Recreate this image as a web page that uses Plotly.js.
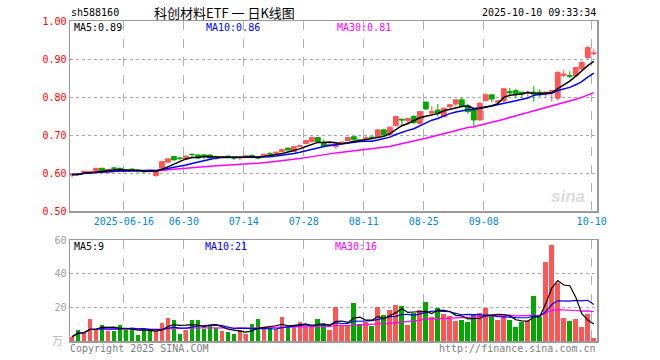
<!DOCTYPE html>
<html>
<head>
<meta charset="utf-8">
<script src="https://cdn.plot.ly/plotly-3.0.1.min.js"></script>
<style>html,body{margin:0;padding:0;background:#fff;}#chart{width:660px;height:360px;}</style>
</head>
<body>
<div id="chart"></div>
<script>
// ---- data ----
const dayIndex = Array.from({length: 88}, (_, i) => i);
const openPrices = [0.595,0.598,0.602,0.602,0.606,0.613,0.609,0.614,0.613,0.609,
  0.611,0.608,0.606,0.607,0.594,0.613,0.629,0.644,0.640,0.637,
  0.650,0.648,0.648,0.648,0.640,0.642,0.645,0.641,0.640,0.641,
  0.647,0.641,0.644,0.652,0.653,0.657,0.666,0.657,0.670,0.678,
  0.683,0.694,0.681,0.673,0.670,0.678,0.686,0.696,0.688,0.689,
  0.695,0.695,0.714,0.702,0.725,0.742,0.738,0.749,0.731,0.787,
  0.758,0.766,0.749,0.775,0.782,0.793,0.777,0.768,0.740,0.791,
  0.806,0.787,0.790,0.815,0.817,0.813,0.810,0.813,0.813,0.809,
  0.813,0.797,0.857,0.857,0.856,0.874,0.904,0.914];
const highPrices = [0.598,0.600,0.606,0.605,0.614,0.614,0.611,0.615,0.614,0.610,
  0.612,0.609,0.608,0.609,0.607,0.632,0.639,0.646,0.643,0.647,
  0.651,0.649,0.649,0.649,0.641,0.646,0.646,0.644,0.643,0.646,
  0.649,0.643,0.651,0.655,0.657,0.664,0.667,0.671,0.675,0.687,
  0.695,0.695,0.689,0.681,0.679,0.683,0.695,0.697,0.689,0.699,
  0.698,0.716,0.716,0.723,0.750,0.743,0.745,0.753,0.763,0.788,
  0.777,0.782,0.772,0.781,0.794,0.800,0.782,0.770,0.786,0.810,
  0.807,0.793,0.823,0.824,0.822,0.814,0.817,0.829,0.821,0.814,
  0.818,0.868,0.872,0.868,0.879,0.895,0.935,0.927];
const lowPrices = [0.589,0.595,0.600,0.601,0.604,0.603,0.607,0.607,0.607,0.606,
  0.606,0.603,0.601,0.603,0.590,0.612,0.628,0.634,0.634,0.635,
  0.639,0.638,0.637,0.639,0.635,0.639,0.640,0.635,0.634,0.640,
  0.640,0.637,0.643,0.648,0.651,0.655,0.660,0.656,0.668,0.677,
  0.682,0.682,0.670,0.670,0.663,0.677,0.685,0.688,0.682,0.682,
  0.689,0.694,0.698,0.701,0.723,0.727,0.727,0.729,0.727,0.766,
  0.753,0.749,0.748,0.770,0.775,0.776,0.756,0.718,0.738,0.789,
  0.786,0.782,0.786,0.806,0.798,0.798,0.801,0.788,0.801,0.801,
  0.788,0.790,0.852,0.850,0.854,0.872,0.898,0.910];
const closePrices = [0.597,0.597,0.605,0.604,0.613,0.604,0.610,0.613,0.608,0.608,
  0.607,0.604,0.604,0.606,0.606,0.631,0.638,0.635,0.639,0.645,
  0.649,0.640,0.647,0.640,0.639,0.643,0.641,0.640,0.641,0.646,
  0.643,0.640,0.650,0.651,0.655,0.662,0.661,0.670,0.672,0.686,
  0.694,0.683,0.670,0.676,0.678,0.682,0.694,0.689,0.684,0.693,
  0.693,0.714,0.700,0.721,0.749,0.740,0.744,0.733,0.762,0.769,
  0.762,0.757,0.771,0.780,0.793,0.777,0.762,0.740,0.784,0.806,
  0.795,0.790,0.822,0.811,0.810,0.808,0.812,0.808,0.808,0.813,
  0.817,0.865,0.860,0.855,0.878,0.891,0.930,0.916];
const volumes = [2.5,6.8,5.4,13.0,6.8,9.4,6.0,6.0,9.4,6.8,
  6.8,3.5,6.8,6.4,6.0,10.6,13.6,12.4,4.0,6.4,
  12.4,12.4,7.0,9.0,8.0,6.0,5.4,4.0,6.4,4.4,
  10.0,13.0,7.0,8.4,7.0,14.4,8.4,8.4,11.2,8.4,
  8.4,13.0,10.0,6.8,20.3,9.4,8.8,22.7,10.0,11.2,
  9.2,20.3,15.4,18.3,21.3,20.7,9.4,16.7,18.3,23.3,
  14.2,19.7,15.9,14.8,11.8,12.4,11.2,15.6,16.7,19.7,
  14.8,12.4,15.4,12.4,8.2,11.4,12.0,26.7,14.4,46.9,
  57.4,34.6,13.6,12.0,13.0,8.2,16.0,1.6];
const tickDays = [9,19,29,39,49,59,69,87];
const tickLabels = ["2025-06-16","06-30","07-14","07-28","08-11","08-25","09-08","10-10"];
const priceTicks = [0.5,0.6,0.7,0.8,0.9,1.0];
const volTicks = [20,40,60];
const volTickLabels = ["20","40","60"];
const priceMaLabels = ["MA5:0.89","MA10:0.86","MA30:0.81"];
const volMaLabels = ["MA5:9","MA10:21","MA30:16"];

// ---- helpers ----
function movingAverage(arr, n){
  return arr.map((_, i) => {
    const s = Math.max(0, i - n + 1);
    let sum = 0;
    for (let k = s; k <= i; k++) sum += arr[k];
    return sum / (i - s + 1);
  });
}
const RED = "#ff5555", GREEN = "#00a800";
const MONO = "DejaVu Sans Mono, monospace";
const gridX = tickDays.map(d => d - 0.35);

const ma5 = movingAverage(closePrices, 5), ma10 = movingAverage(closePrices, 10), ma30 = movingAverage(closePrices, 30);
const vma5 = movingAverage(volumes, 5), vma10 = movingAverage(volumes, 10), vma30 = movingAverage(volumes, 30);
const volColors = dayIndex.map(i => closePrices[i] >= openPrices[i] ? RED : GREEN);

const traces = [
  {type:"candlestick", x:dayIndex, open:openPrices, high:highPrices, low:lowPrices, close:closePrices,
   xaxis:"x", yaxis:"y", whiskerwidth:0,
   increasing:{line:{color:RED,width:1}, fillcolor:RED},
   decreasing:{line:{color:GREEN,width:1}, fillcolor:GREEN}, hoverinfo:"skip"},
  {type:"scatter", mode:"lines", x:dayIndex, y:ma30, xaxis:"x", yaxis:"y", line:{color:"#ff00ff", width:1.5}},
  {type:"scatter", mode:"lines", x:dayIndex, y:ma10, xaxis:"x", yaxis:"y", line:{color:"#0000ff", width:1.5}},
  {type:"scatter", mode:"lines", x:dayIndex, y:ma5, xaxis:"x", yaxis:"y", line:{color:"#000000", width:1.5}},
  {type:"bar", x:dayIndex, y:volumes, xaxis:"x2", yaxis:"y2", width:0.8, marker:{color:volColors, line:{width:0}}},
  {type:"scatter", mode:"lines", x:dayIndex, y:vma30, xaxis:"x2", yaxis:"y2", line:{color:"#ff00ff", width:1.2}},
  {type:"scatter", mode:"lines", x:dayIndex, y:vma10, xaxis:"x2", yaxis:"y2", line:{color:"#0000ff", width:1.2}},
  {type:"scatter", mode:"lines", x:dayIndex, y:vma5, xaxis:"x2", yaxis:"y2", line:{color:"#000000", width:1.2}}
];

const PL = 70, PR = 597.5, PT = 21, PB = 341;
const px = x => (x - PL) / (PR - PL);
const py = y => (PB - y) / (PB - PT);
const txt = (text, x, y, xanchor, color, size, family, extra) => Object.assign({
  text, x: px(x), y: py(y), xref:"paper", yref:"paper", xanchor, yanchor:"middle",
  showarrow:false, font:{family: family || MONO, size: size || 10, color: color || "#000"}
}, extra || {});

const axisLine = {showline:true, mirror:true, linecolor:"#9a9a9a", linewidth:1.5, zeroline:false, fixedrange:true};
const layout = {
  width:660, height:360,
  margin:{l:PL, r:660-PR, t:PT, b:360-PB, pad:0},
  paper_bgcolor:"#fff", plot_bgcolor:"#fff",
  showlegend:false, boxgap:0.2, boxgroupgap:0, bargap:0,
  xaxis: Object.assign({anchor:"y", domain:[0,1], range:[-0.333, 87.54], rangeslider:{visible:false},
    tickmode:"array", tickvals:gridX, ticktext:tickLabels, ticks:"",
    tickfont:{family:MONO, size:10, color:"#0088dd"},
    showgrid:true, gridcolor:"#b0b0b0", griddash:"dash", gridwidth:1}, axisLine),
  yaxis: Object.assign({anchor:"x", domain:[py(211.3), 1], range:[0.5, 1.0],
    tickmode:"array", tickvals:priceTicks, tickformat:".2f", ticks:"",
    tickfont:{family:MONO, size:10, color:"#ff0000"},
    showgrid:true, gridcolor:"#a8a8a8", griddash:"dot", gridwidth:1}, axisLine),
  xaxis2: Object.assign({anchor:"y2", domain:[0,1], range:[-0.333, 87.54], matches:"x",
    tickmode:"array", tickvals:gridX, showticklabels:false, ticks:"",
    showgrid:true, gridcolor:"#b0b0b0", griddash:"dash", gridwidth:1}, axisLine),
  yaxis2: Object.assign({anchor:"x2", domain:[0, py(240.3)], range:[0, 60],
    tickmode:"array", tickvals:volTicks, ticktext:volTickLabels, ticks:"",
    tickfont:{family:MONO, size:10, color:"#a0a0a0"},
    showgrid:true, gridcolor:"#a8a8a8", griddash:"dot", gridwidth:1}, axisLine),
  annotations:[
    txt("sh588160", 69, 12, "left"),
    txt("科创材料ETF 一 日K线图", 224.5, 12, "center", "#000", 13, "Noto Sans CJK SC"),
    txt("2025-10-10 09:33:34", 599, 12, "right"),
    txt(priceMaLabels[0], 72, 28, "left", "#000"),
    txt(priceMaLabels[1], 204, 28, "left", "#0000ff"),
    txt(priceMaLabels[2], 335, 28, "left", "#ff00ff"),
    txt(volMaLabels[0], 72, 246, "left", "#000"),
    txt(volMaLabels[1], 203, 246, "left", "#0000ff"),
    txt(volMaLabels[2], 333, 246, "left", "#ff00ff"),
    txt("万", 57, 340, "center", "#b8b8b8", 11, "Noto Sans CJK SC"),
    txt("Copyright 2025 SINA.COM", 68, 348, "left", "#808080"),
    txt("http://finance.sina.com.cn", 599, 348, "right", "#808080"),
    txt("<b><i>sina</i></b>", 568, 196, "center", "#dcdcdc", 17, "Liberation Sans")
  ]
};

Plotly.newPlot("chart", traces, layout, {staticPlot:true, displayModeBar:false});
</script>
</body>
</html>
